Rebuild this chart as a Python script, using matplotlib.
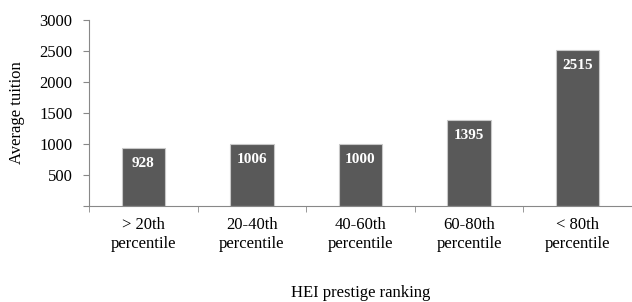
import numpy as np
import matplotlib.pyplot as plt

# data
categories = ['> 20th\npercentile', '20-40th\npercentile', '40-60th\npercentile',
              '60-80th\npercentile', '< 80th\npercentile']
tuition = [928, 1006, 1000, 1395, 2515]

plt.rcParams['font.family'] = ['Liberation Serif', 'DejaVu Serif']

fig = plt.figure(figsize=(6.32, 3.02), dpi=100)
ax = fig.add_axes([89 / 632, 96 / 302, 543 / 632, 186 / 302])

x = np.arange(len(categories))
bars = ax.bar(x, tuition, width=0.4, color='#595959', edgecolor='#c8c8c8', linewidth=0.8)

# value labels inside the bars
for xi, v in zip(x, tuition):
    ax.annotate(str(v), (xi, v), xytext=(0, -6.5), textcoords='offset points',
                ha='center', va='top', color='white', fontweight='bold', fontsize=11)

ax.set_xlim(-0.5, len(categories) - 0.5)
ax.set_ylim(0, 3000)
ax.set_yticks([0, 500, 1000, 1500, 2000, 2500, 3000])
ax.set_yticklabels(['', '500', '1000', '1500', '2000', '2500', '3000'], fontsize=12)

# category labels at centres, tick marks at boundaries
ax.set_xticks(x)
ax.set_xticklabels(categories, fontsize=12, linespacing=1.25)
ax.tick_params(axis='x', which='major', length=0, pad=8)
ax.set_xticks(np.arange(-0.5, len(categories), 1), minor=True)
ax.tick_params(axis='x', which='minor', length=4, color='#888888', direction='out')
ax.tick_params(axis='y', length=4, color='#888888', direction='out', pad=8)

for side in ['top', 'right']:
    ax.spines[side].set_visible(False)
for side in ['left', 'bottom']:
    ax.spines[side].set_color('#888888')
    ax.spines[side].set_linewidth(0.8)

ax.set_ylabel('Average tuition', fontsize=12, labelpad=10)
ax.set_xlabel('HEI prestige ranking', fontsize=12, labelpad=23.5)

fig.savefig('out.png', dpi=100)
